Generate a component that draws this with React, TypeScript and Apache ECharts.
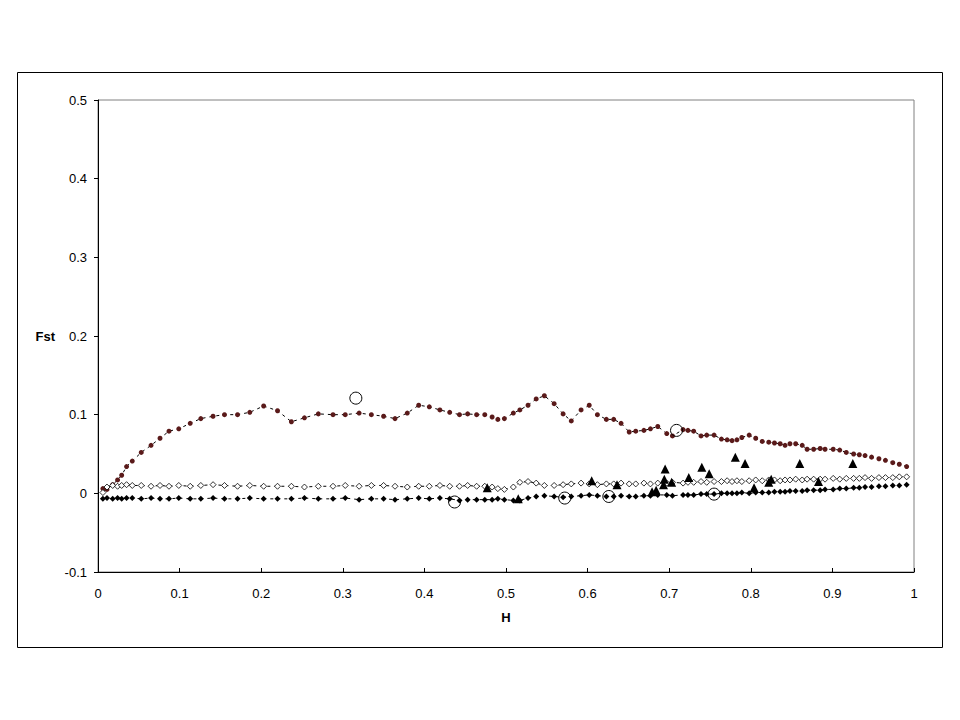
import React, { useEffect, useRef } from "react";
import * as echarts from "echarts";

// heterozygosity bins shared by the three curves
const H = [
  0.006, 0.011, 0.018, 0.024, 0.029, 0.035, 0.042, 0.053, 0.065, 0.076,
  0.087, 0.099, 0.113, 0.126, 0.141, 0.155, 0.171, 0.186, 0.203, 0.22,
  0.237, 0.253, 0.27, 0.288, 0.303, 0.32, 0.335, 0.35, 0.364, 0.379,
  0.393, 0.406, 0.419, 0.431, 0.443, 0.453, 0.464, 0.474, 0.483, 0.49,
  0.498, 0.509, 0.517, 0.527, 0.537, 0.547, 0.559, 0.57, 0.58, 0.592,
  0.602, 0.612, 0.623, 0.632, 0.641, 0.651, 0.659, 0.669, 0.677, 0.686,
  0.697, 0.704, 0.717, 0.723, 0.73, 0.739, 0.746, 0.755, 0.764, 0.771,
  0.777, 0.783, 0.789, 0.798, 0.806, 0.814, 0.822, 0.829, 0.836, 0.842,
  0.848, 0.855, 0.863, 0.869, 0.877, 0.885, 0.891, 0.901, 0.909, 0.917,
  0.926, 0.933, 0.94, 0.948, 0.957, 0.965, 0.974, 0.982, 0.991,
];

// upper curve (dark red markers)
const upper = [
  0.006, 0.005, 0.011, 0.017, 0.023, 0.034, 0.041, 0.052, 0.061, 0.07,
  0.079, 0.082, 0.089, 0.095, 0.098, 0.1, 0.1, 0.103, 0.111, 0.105,
  0.091, 0.096, 0.101, 0.1, 0.1, 0.102, 0.1, 0.098, 0.095, 0.102,
  0.112, 0.11, 0.106, 0.103, 0.1, 0.101, 0.1, 0.1, 0.097, 0.094,
  0.095, 0.102, 0.106, 0.112, 0.12, 0.124, 0.114, 0.101, 0.092, 0.106,
  0.112, 0.1, 0.094, 0.094, 0.089, 0.078, 0.079, 0.08, 0.082, 0.085,
  0.076, 0.073, 0.081, 0.08, 0.079, 0.073, 0.074, 0.074, 0.069, 0.068,
  0.067, 0.068, 0.071, 0.074, 0.07, 0.066, 0.065, 0.064, 0.063, 0.061,
  0.063, 0.063, 0.061, 0.056, 0.056, 0.057, 0.056, 0.056, 0.055, 0.052,
  0.05, 0.049, 0.048, 0.046, 0.044, 0.042, 0.039, 0.037, 0.034,
];

// middle curve (open markers)
const middle = [
  0.001, 0.008, 0.01, 0.009, 0.01, 0.011, 0.01, 0.01, 0.009, 0.01,
  0.009, 0.01, 0.009, 0.01, 0.011, 0.01, 0.009, 0.01, 0.009, 0.009,
  0.009, 0.008, 0.009, 0.009, 0.01, 0.009, 0.01, 0.01, 0.009, 0.008,
  0.009, 0.009, 0.01, 0.009, 0.009, 0.01, 0.009, 0.009, 0.008, 0.006,
  0.005, 0.008, 0.014, 0.015, 0.013, 0.01, 0.01, 0.011, 0.012, 0.013,
  0.012, 0.011, 0.012, 0.012, 0.013, 0.012, 0.012, 0.013, 0.012, 0.013,
  0.013, 0.014, 0.013, 0.014, 0.014, 0.015, 0.014, 0.015, 0.015, 0.016,
  0.015, 0.016, 0.015, 0.016, 0.017, 0.016, 0.017, 0.017, 0.016, 0.017,
  0.017, 0.018, 0.017, 0.018, 0.018, 0.018, 0.018, 0.019, 0.018, 0.019,
  0.019, 0.019, 0.02, 0.019, 0.02, 0.02, 0.02, 0.021, 0.021,
];

// lower curve (filled black markers)
const lower = [
  -0.007, -0.006, -0.007, -0.006, -0.007, -0.006, -0.006, -0.007, -0.006, -0.007,
  -0.007, -0.006, -0.007, -0.007, -0.006, -0.007, -0.007, -0.006, -0.007, -0.007,
  -0.007, -0.006, -0.007, -0.007, -0.006, -0.008, -0.007, -0.007, -0.008, -0.007,
  -0.006, -0.007, -0.006, -0.007, -0.009, -0.008, -0.008, -0.008, -0.008, -0.007,
  -0.008, -0.009, -0.009, -0.006, -0.004, -0.003, -0.004, -0.005, -0.004, -0.003,
  -0.002, -0.003, -0.004, -0.004, -0.003, -0.004, -0.004, -0.003, -0.003, -0.002,
  -0.002, -0.003, -0.002, -0.002, -0.002, -0.001, -0.001, -0.001, 0.0, 0.0,
  0.0, 0.0, 0.001, 0.0, 0.001, 0.001, 0.001, 0.002, 0.002, 0.002,
  0.003, 0.003, 0.003, 0.004, 0.004, 0.004, 0.005, 0.005, 0.006, 0.006,
  0.007, 0.007, 0.008, 0.008, 0.009, 0.009, 0.01, 0.01, 0.011,
];

// single loci (triangles)
const triH = [
  0.477, 0.515, 0.605, 0.636, 0.679, 0.684, 0.693, 0.694, 0.695, 0.703,
  0.724, 0.74, 0.749, 0.781, 0.793, 0.804, 0.822, 0.825, 0.86, 0.883, 0.925,
];
const triFst = [
  0.007, -0.007, 0.016, 0.011, 0.002, 0.004, 0.011, 0.018, 0.031, 0.014,
  0.02, 0.033, 0.025, 0.046, 0.038, 0.007, 0.014, 0.018, 0.038, 0.015, 0.038,
];

// open circles
const circH = [0.316, 0.437, 0.572, 0.626, 0.709, 0.755];
const circFst = [0.121, -0.011, -0.006, -0.004, 0.08, -0.001];

const pairs = (xs: number[], ys: number[]) => xs.map((x, i) => [x, ys[i]]);

const FONT = "Liberation Sans";

const App = () => {
  const chartRef = useRef<HTMLDivElement>(null);

  useEffect(() => {
    const chart = echarts.init(chartRef.current, null, { renderer: "svg" });

    const dashed = { color: "#000", width: 1, type: [3, 4] as number[] };
    const label = { color: "#000", fontSize: 13, fontFamily: FONT };
    const title = { color: "#000", fontSize: 13, fontWeight: "bold", fontFamily: FONT };

    chart.setOption({
      animation: false,
      backgroundColor: "#fff",
      textStyle: { fontFamily: FONT },
      graphic: [
        {
          type: "rect",
          shape: { x: 17.5, y: 72.5, width: 925, height: 575 },
          style: { fill: "none", stroke: "#000", lineWidth: 1 },
        },
      ],
      grid: {
        left: 98,
        top: 100,
        width: 816,
        height: 472,
        show: true,
        borderColor: "#808080",
        borderWidth: 1,
      },
      xAxis: {
        type: "value",
        min: 0,
        max: 1,
        interval: 0.1,
        name: "H",
        nameLocation: "middle",
        nameGap: 39,
        nameTextStyle: title,
        axisLine: { onZero: false, lineStyle: { color: "#000" } },
        axisTick: { inside: true, length: 4, lineStyle: { color: "#000" } },
        axisLabel: { ...label, margin: 15 },
        splitLine: { show: false },
      },
      yAxis: {
        type: "value",
        min: -0.1,
        max: 0.5,
        interval: 0.1,
        name: "Fst",
        nameLocation: "middle",
        nameRotate: 0,
        nameGap: 43,
        nameTextStyle: title,
        axisLine: { show: true, onZero: false, lineStyle: { color: "#000" } },
        axisTick: { show: true, length: 4, lineStyle: { color: "#000" } },
        axisLabel: { ...label, margin: 11 },
        splitLine: { show: false },
      },
      series: [
        {
          type: "line",
          data: pairs(H, upper),
          symbol: "circle",
          symbolSize: 5,
          lineStyle: dashed,
          itemStyle: { color: "#5a1a1a" },
          z: 3,
        },
        {
          type: "line",
          data: pairs(H, middle),
          symbol: "diamond",
          symbolSize: 6,
          lineStyle: dashed,
          itemStyle: { color: "#fff", borderColor: "#000", borderWidth: 0.8 },
          z: 3,
        },
        {
          type: "line",
          data: pairs(H, lower),
          symbol: "diamond",
          symbolSize: 6,
          lineStyle: dashed,
          itemStyle: { color: "#000" },
          z: 3,
        },
        {
          type: "scatter",
          data: pairs(triH, triFst),
          symbol: "triangle",
          symbolSize: 9,
          itemStyle: { color: "#000", opacity: 1 },
          z: 4,
        },
        {
          type: "scatter",
          data: pairs(circH, circFst),
          symbol: "circle",
          symbolSize: 12,
          itemStyle: {
            color: "rgba(255,255,255,0)",
            borderColor: "#000",
            borderWidth: 1,
            opacity: 1,
          },
          z: 5,
        },
      ],
    });

    return () => {
      chart.dispose();
    };
  }, []);

  return (
    <div
      ref={chartRef}
      style={{ position: "absolute", left: 0, top: 0, width: "960px", height: "720px" }}
    ></div>
  );
};

export default App;
